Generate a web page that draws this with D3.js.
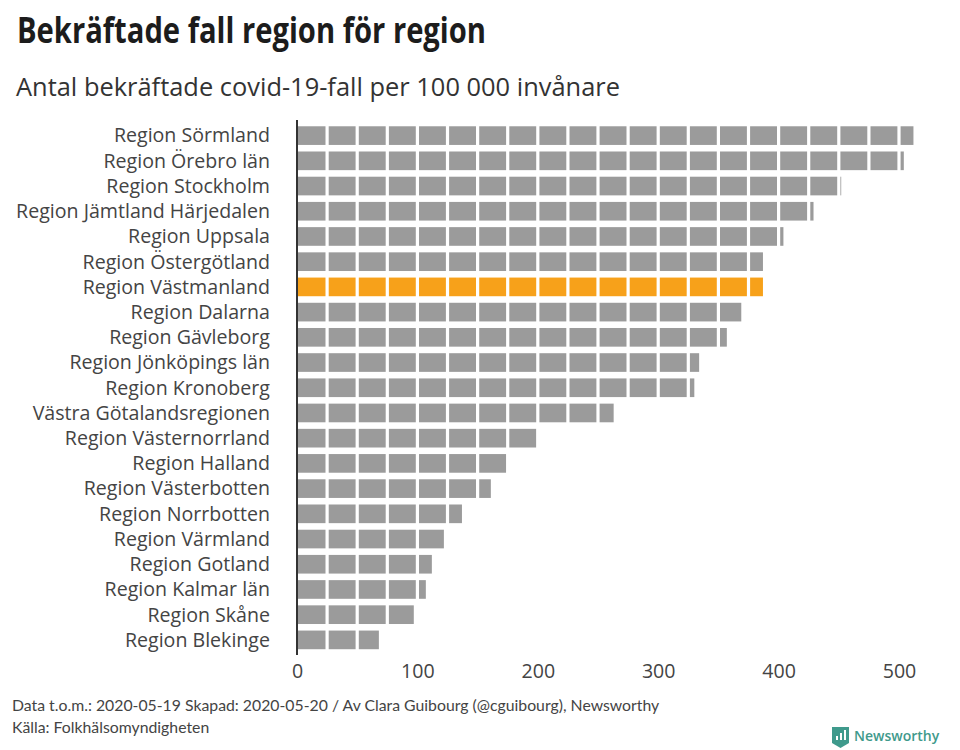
<!DOCTYPE html>
<html>
<head>
    <meta charset="utf-8">
    <title>Bekräftade fall region för region</title>
    <script src="https://d3js.org/d3.v7.min.js"></script>
    <style>
        html, body{
            margin: 0;
            background: #fff;
        }

        svg{
            display: block;
        }

        text{
            font-family: "Open Sans", sans-serif;
        }

        .title{
            font-size: 36px;
            font-weight: 700;
            fill: #1c1c1c;
        }

        .subtitle{
            font-size: 25px;
            fill: #333;
        }

        .regionLabel{
            font-size: 19.6px;
            fill: #444;
        }

        .tick text{
            font-size: 19.6px;
            fill: #444;
        }

        .footer{
            font-family: Lato, sans-serif;
            font-size: 15.8px;
            fill: #444;
        }

        .logoText{
            font-size: 14px;
            font-weight: 600;
            fill: #3f9a8c;
        }
    </style>
</head>
<body>
    <svg id="chart" width="960" height="750"></svg>

    <script>
        var regions = ["Region Sörmland", "Region Örebro län", "Region Stockholm", "Region Jämtland Härjedalen",
            "Region Uppsala", "Region Östergötland", "Region Västmanland", "Region Dalarna", "Region Gävleborg",
            "Region Jönköpings län", "Region Kronoberg", "Västra Götalandsregionen", "Region Västernorrland",
            "Region Halland", "Region Västerbotten", "Region Norrbotten", "Region Värmland", "Region Gotland",
            "Region Kalmar län", "Region Skåne", "Region Blekinge"];
        var cases = [512, 504, 452, 429, 404, 387, 387, 369, 357, 334, 330, 263, 199, 174, 161, 137, 122, 112, 107, 97, 68];
        var highlighted = ["Region Västmanland"];
        var xTicks = [0, 100, 200, 300, 400, 500];
        var gridSteps = d3.range(25, 525, 25); // the white cuts through the bars

        var svg = d3.select("#chart");

        var x = d3.scaleLinear().domain([0, 500]).range([297, 899]);
        var y = d3.scaleBand().domain(regions).range([123, 652.5]).paddingInner(0.26).paddingOuter(0.13);

        // Headings, squeezed to the condensed look of the original
        svg.append("text")
            .attr("class", "title")
            .attr("x", 17)
            .attr("y", 43)
            .attr("textLength", 469)
            .attr("lengthAdjust", "spacingAndGlyphs")
            .text("Bekräftade fall region för region");

        svg.append("text")
            .attr("class", "subtitle")
            .attr("x", 16)
            .attr("y", 96)
            .attr("textLength", 604)
            .attr("lengthAdjust", "spacingAndGlyphs")
            .text("Antal bekräftade covid-19-fall per 100 000 invånare");

        // Bars
        svg.selectAll(".bar")
            .data(regions)
            .enter()
            .append("rect")
                .attr("class", "bar")
                .attr("x", x(0))
                .attr("y", d => y(d))
                .attr("width", (d, i) => x(cases[i]) - x(0))
                .attr("height", y.bandwidth())
                .attr("fill", d => highlighted.includes(d) ? "#f7a11a" : "#9b9b9b");

        // White cuts every 25 cases
        svg.selectAll(".cut")
            .data(gridSteps)
            .enter()
            .append("line")
                .attr("class", "cut")
                .attr("x1", d => x(d))
                .attr("x2", d => x(d))
                .attr("y1", 120)
                .attr("y2", 655)
                .style("stroke", "#fff")
                .style("stroke-width", 3.2);

        // Region names
        svg.selectAll(".regionLabel")
            .data(regions)
            .enter()
            .append("text")
                .attr("class", "regionLabel")
                .attr("x", 270)
                .attr("y", d => y(d) + y.bandwidth() / 2)
                .attr("dy", "0.35em")
                .attr("text-anchor", "end")
                .text(d => d);

        // Axes
        svg.append("line")
            .attr("x1", x(0))
            .attr("x2", x(0))
            .attr("y1", 120)
            .attr("y2", 655)
            .style("stroke", "#333")
            .style("stroke-width", 2);

        var xAxis = svg.append("g")
            .attr("transform", "translate(0,655)")
            .call(d3.axisBottom(x).tickValues(xTicks).tickSize(0).tickPadding(9));
        xAxis.select(".domain").remove();

        // Footer
        svg.append("text")
            .attr("class", "footer")
            .attr("x", 12)
            .attr("y", 711)
            .text("Data t.o.m.: 2020-05-19 Skapad: 2020-05-20 / Av Clara Guibourg (@cguibourg), Newsworthy");

        svg.append("text")
            .attr("class", "footer")
            .attr("x", 12)
            .attr("y", 733)
            .text("Källa: Folkhälsomyndigheten");

        // Newsworthy logo
        var logo = svg.append("g").attr("transform", "translate(832,727)");
        logo.append("path")
            .attr("d", "M0 0H17V16L8.5 21L0 16Z")
            .attr("fill", "#3f9a8c");
        logo.selectAll(".logoBar")
            .data([[4, 9, 4], [8, 6, 7], [12, 3, 10]])
            .enter()
            .append("rect")
                .attr("class", "logoBar")
                .attr("x", d => d[0])
                .attr("y", d => d[1])
                .attr("width", 2)
                .attr("height", d => d[2])
                .attr("fill", "#fff");
        svg.append("text")
            .attr("class", "logoText")
            .attr("x", 854)
            .attr("y", 741)
            .text("Newsworthy");
    </script>
</body>
</html>
